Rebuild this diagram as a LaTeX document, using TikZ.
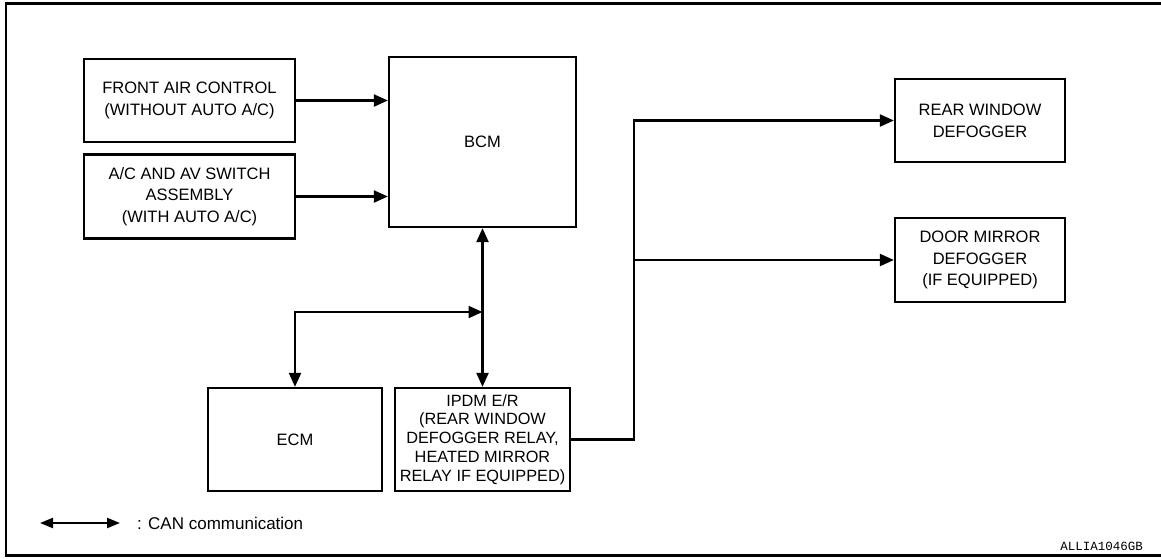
\documentclass[tikz,border=0pt]{standalone}
\usepackage{fontspec}
\setmainfont{Liberation Sans}
\newfontfamily\codefont{Liberation Mono}
\usetikzlibrary{arrows.meta}
\begin{document}
\begin{tikzpicture}[x=1pt,y=-1pt,
  box/.style={draw,line width=2.3pt,inner sep=0pt,align=center,
    font=\fontsize{16.5}{21.7}\selectfont},
  conn/.style={line width=2.2pt},
  arr/.style={conn,-{Triangle[length=14pt,width=12pt]}},
  barr/.style={conn,{Triangle[length=14pt,width=12pt]}-{Triangle[length=14pt,width=12pt]}},
  legarr/.style={line width=2.2pt,{Triangle[length=13pt,width=10pt]}-{Triangle[length=13pt,width=10pt]}}]
\useasboundingbox (0,0) rectangle (1161,558);
% frame
\draw[line width=2.6pt] (1161,3.5) -- (6,3.5) -- (6,555.5) -- (1161,555.5);
% nodes
\node[box,minimum width=211pt,minimum height=83pt] (front) at (189.5,100.5)
  {FRONT AIR CONTROL\\(WITHOUT AUTO A/C)};
\node[box,minimum width=211pt,minimum height=84pt] (ac) at (189.5,196.5)
  {A/C AND AV SWITCH\\ASSEMBLY\\(WITH AUTO A/C)};
\node[box,minimum width=187pt,minimum height=170pt] (bcm) at (482.5,142) {BCM};
\node[box,minimum width=174pt,minimum height=103pt] (ecm) at (295,439.5) {ECM};
\node[box,minimum width=175pt,minimum height=103pt,
  font=\fontsize{16.3}{18.8}\selectfont] (ipdm) at (482.5,439.5)
  {IPDM E/R\\(REAR WINDOW\\DEFOGGER RELAY,\\HEATED MIRROR\\RELAY IF EQUIPPED)};
\node[box,minimum width=170pt,minimum height=83pt] (rear) at (980,120.5)
  {REAR WINDOW\\DEFOGGER};
\node[box,minimum width=170pt,minimum height=84pt] (door) at (980,260)
  {DOOR MIRROR\\DEFOGGER\\(IF EQUIPPED)};
% connectors
\draw[arr] (front.east) -- (front.east -| bcm.west);
\draw[arr] (ac.east) -- (ac.east -| bcm.west);
\draw[barr] (bcm.south) -- (ipdm.north);
\coordinate (j) at (482.5,312);
\draw[barr] (ecm.north) |- (j);
\coordinate (bx) at (634,0);
\draw[arr] (ipdm.east) -| (bx |- rear.west) -- (rear.west);
\draw[arr] (bx |- door.west) -- (door.west);
% legend
\coordinate (l1) at (40,523);
\coordinate (l2) at (120,523);
\draw[legarr] (l1) -- (l2);
\node[anchor=west,inner sep=0pt,font=\fontsize{17}{19}\selectfont] (legtext) at (137,523)
  {: CAN communication};
\node[anchor=east,inner sep=0pt,font=\codefont\fontsize{12.5}{14}\selectfont] (code) at (1143,546)
  {ALLIA1046GB};
\end{tikzpicture}
\end{document}
